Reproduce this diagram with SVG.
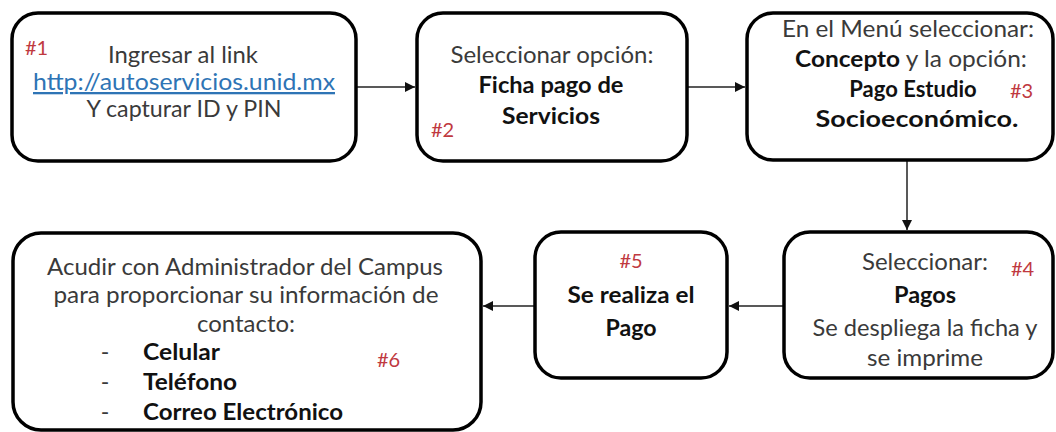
<svg xmlns="http://www.w3.org/2000/svg" width="1056" height="432" viewBox="0 0 1056 432">
<style>
.box{fill:#fff;stroke:#000;stroke-width:3.5}
.t{font-family:Lato,"Open Sans","Liberation Sans",sans-serif;font-size:23px;fill:#3a3a3a;text-anchor:middle}
.s{text-anchor:start}
.b{font-weight:bold;fill:#111}
.n{font-family:Lato,"Liberation Sans",sans-serif;font-size:20px;fill:#c0393f}
.lk{fill:#2e74b5}
.c{stroke:#222;stroke-width:1.5;fill:none;marker-end:url(#ah)}
</style>
<defs>
<marker id="ah" viewBox="0 0 10 10" refX="10" refY="5" markerWidth="10" markerHeight="10" markerUnits="userSpaceOnUse" orient="auto">
<path d="M0,0 L10,5 L0,10 z" fill="#111"/>
</marker>
</defs>
<rect width="1056" height="432" fill="#fff"/>
<g id="connectors">
<line class="c" x1="357" y1="87" x2="415" y2="87"/>
<line class="c" x1="688" y1="87" x2="745" y2="87"/>
<line class="c" x1="907" y1="161" x2="907" y2="230"/>
<line class="c" x1="783" y1="306" x2="729" y2="306"/>
<line class="c" x1="534" y1="306" x2="483" y2="306"/>
</g>
<g id="node1">
<rect class="box" x="12" y="13" width="344" height="148" rx="26"/>
<text class="n" x="25" y="55">#1</text>
<text class="t" x="183" y="63" textLength="150" lengthAdjust="spacingAndGlyphs">Ingresar al link</text>
<text class="t lk" x="184" y="90" text-decoration="underline" textLength="302" lengthAdjust="spacingAndGlyphs">http://autoservicios.unid.mx</text>
<text class="t" x="184" y="117" textLength="195" lengthAdjust="spacingAndGlyphs">Y capturar ID y PIN</text>
</g>
<g id="node2">
<rect class="box" x="417" y="13" width="270" height="148" rx="26"/>
<text class="t" x="552" y="63" textLength="203" lengthAdjust="spacingAndGlyphs">Seleccionar opción:</text>
<text class="t b" x="551" y="93" textLength="145" lengthAdjust="spacingAndGlyphs">Ficha pago de</text>
<text class="t b" x="551" y="124" textLength="98" lengthAdjust="spacingAndGlyphs">Servicios</text>
<text class="n" x="431" y="137">#2</text>
</g>
<g id="node3">
<rect class="box" x="747" y="13" width="306" height="147" rx="26"/>
<text class="t" x="908" y="37" textLength="252" lengthAdjust="spacingAndGlyphs">En el Menú seleccionar:</text>
<text class="t" x="911" y="67" textLength="232" lengthAdjust="spacingAndGlyphs"><tspan class="b">Concepto</tspan> y la opción:</text>
<text class="t b" x="913" y="97" style="font-size:22px">Pago Estudio</text>
<text class="n" x="1010" y="98">#3</text>
<text class="t b" x="917" y="127" textLength="203" lengthAdjust="spacingAndGlyphs">Socioeconómico.</text>
</g>
<g id="node4">
<rect class="box" x="784" y="232" width="269" height="146" rx="26"/>
<text class="t" x="925" y="270" textLength="126" lengthAdjust="spacingAndGlyphs">Seleccionar:</text>
<text class="n" x="1011" y="276">#4</text>
<text class="t b" x="925" y="303" textLength="62" lengthAdjust="spacingAndGlyphs">Pagos</text>
<text class="t" x="925" y="336" textLength="225" lengthAdjust="spacingAndGlyphs">Se despliega la ficha y</text>
<text class="t" x="925" y="366" textLength="116" lengthAdjust="spacingAndGlyphs">se imprime</text>
</g>
<g id="node5">
<rect class="box" x="535" y="232" width="192" height="146" rx="26"/>
<text class="n" x="631" y="268" text-anchor="middle">#5</text>
<text class="t b" x="631" y="303" textLength="127" lengthAdjust="spacingAndGlyphs">Se realiza el</text>
<text class="t b" x="631" y="336" textLength="51" lengthAdjust="spacingAndGlyphs">Pago</text>
</g>
<g id="node6">
<rect class="box" x="13" y="233" width="468" height="197" rx="28"/>
<text class="t" x="245" y="275" textLength="396" lengthAdjust="spacingAndGlyphs">Acudir con Administrador del Campus</text>
<text class="t" x="246" y="303" textLength="385" lengthAdjust="spacingAndGlyphs">para proporcionar su información de</text>
<text class="t" x="246" y="332" textLength="98" lengthAdjust="spacingAndGlyphs">contacto:</text>
<text class="t" x="105" y="360">-</text>
<text class="t b s" x="143" y="360" textLength="77" lengthAdjust="spacingAndGlyphs">Celular</text>
<text class="t" x="105" y="390">-</text>
<text class="t b s" x="143" y="390" textLength="94" lengthAdjust="spacingAndGlyphs">Teléfono</text>
<text class="t" x="105" y="420">-</text>
<text class="t b s" x="143" y="420" textLength="200" lengthAdjust="spacingAndGlyphs">Correo Electrónico</text>
<text class="n" x="377" y="367">#6</text>
</g>
</svg>
